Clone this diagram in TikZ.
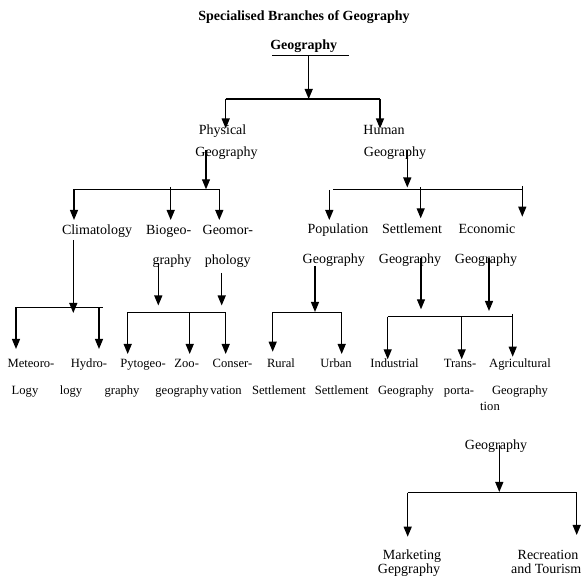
\documentclass[tikz,border=0pt]{standalone}
\usepackage{fontspec}
\setmainfont{Liberation Serif}
\usetikzlibrary{arrows.meta}
\begin{document}
\begin{tikzpicture}[x=1pt,y=-1pt,
  lbl/.style={anchor=base,inner sep=0pt,font=\fontsize{14}{16}\selectfont},
  sml/.style={anchor=base,inner sep=0pt,font=\fontsize{12.6}{14}\selectfont},
  ttl/.style={anchor=base,inner sep=0pt,font=\fontsize{14}{16}\selectfont\bfseries},
  ln/.style={line width=1.2pt},
  arr/.style={line width=1.2pt,-{Triangle[length=10pt,width=8pt]}}]
\useasboundingbox (0,0) rectangle (582,577);

% ---- title and root
\node[ttl] (title) at (304,20.5) {Specialised Branches of Geography};
\node[ttl] (geo) at (303.7,50) {Geography};
\coordinate (ulL) at (272,56);
\coordinate (ulR) at (349,56);
\draw[line width=1pt] (ulL) -- (ulR);
\coordinate (g0) at (308.7,56);
\coordinate (b0) at (308.7,99);
\coordinate (b0L) at (225.7,99);
\coordinate (b0R) at (380,99);
\coordinate (t0L) at (225.7,128.5);
\coordinate (t0R) at (380,128.5);
\draw[arr] (g0) -- (b0);
\draw[ln] (b0L) -- (b0R);
\draw[arr] (b0L) -- (t0L);
\draw[arr] (b0R) -- (t0R);

% ---- Physical / Human
\node[lbl] (phys1) at (222.6,135) {Physical};
\node[lbl] (phys2) at (226.5,156.7) {Geography};
\node[lbl] (hum1) at (384,135) {Human};
\node[lbl] (hum2) at (395,156.7) {Geography};

% ---- Physical branch
\coordinate (p0) at (206,150);
\coordinate (p1) at (206,189.3);
\coordinate (pL) at (74,189.3);
\coordinate (pR) at (219.3,189.3);
\coordinate (pM) at (170.7,187);
\coordinate (tCl) at (74,220);
\coordinate (tBi) at (170.7,220);
\coordinate (tGe) at (219.3,220);
\draw[arr] (p0) -- (p1);
\draw[ln] (pL) -- (pR);
\draw[arr] (pL) -- (tCl);
\draw[arr] (pM) -- (tBi);
\draw[arr] (pR) -- (tGe);

\node[lbl] (clim) at (97,234.3) {Climatology};
\node[lbl] (bio1) at (168.7,234.3) {Biogeo-};
\node[lbl] (bio2) at (172,264.3) {graphy};
\node[lbl] (geom1) at (227.8,234.3) {Geomor-};
\node[lbl] (geom2) at (227.8,264.3) {phology};

% Climatology children
\coordinate (c0) at (73.3,240);
\coordinate (c1) at (73.3,313);
\coordinate (cL) at (16,307.5);
\coordinate (cR) at (102.7,307.5);
\coordinate (cR2) at (99,307.5);
\coordinate (tMe) at (16,349);
\coordinate (tHy) at (99,349);
\draw[ln] (cL) -- (cR);
\draw[arr] (c0) -- (c1);
\draw[arr] (cL) -- (tMe);
\draw[arr] (cR2) -- (tHy);

% Biogeo / Geomor children
\coordinate (bg0) at (158.3,263);
\coordinate (bg1) at (158.3,305.5);
\coordinate (gm0) at (221.7,273);
\coordinate (gm1) at (221.7,305.5);
\coordinate (bL) at (127.7,312.5);
\coordinate (bM) at (189.7,312.5);
\coordinate (bR) at (225.7,312.5);
\coordinate (tPy) at (127.7,354);
\coordinate (tZo) at (189.7,354);
\coordinate (tCo) at (225.7,354);
\draw[arr] (bg0) -- (bg1);
\draw[arr] (gm0) -- (gm1);
\draw[ln] (bL) -- (bR);
\draw[arr] (bL) -- (tPy);
\draw[arr] (bM) -- (tZo);
\draw[arr] (bR) -- (tCo);

% ---- Human branch
\coordinate (h0) at (407.3,150);
\coordinate (h1) at (407.3,187.5);
\coordinate (hL) at (333,189.5);
\coordinate (hR) at (522.3,189.5);
\coordinate (hA) at (329.3,190);
\coordinate (hB) at (420.7,187.3);
\coordinate (hC) at (522.3,186);
\coordinate (tPo) at (329.3,220);
\coordinate (tSe) at (420.7,218.3);
\coordinate (tEc) at (522.3,216.7);
\draw[arr] (h0) -- (h1);
\draw[ln] (hL) -- (hR);
\draw[arr] (hA) -- (tPo);
\draw[arr] (hB) -- (tSe);
\draw[arr] (hC) -- (tEc);

\node[lbl] (pop1) at (338,234) {Population};
\node[lbl] (pop2) at (333.8,264) {Geography};
\node[lbl] (set1) at (412,234) {Settlement};
\node[lbl] (set2) at (410,264) {Geography};
\node[lbl] (eco1) at (487,234) {Economic};
\node[lbl] (eco2) at (486,264) {Geography};

% Population children
\coordinate (po0) at (315,266);
\coordinate (po1) at (315,312);
\coordinate (rL) at (272.7,312.5);
\coordinate (rR) at (341.7,312.5);
\coordinate (tRu) at (272.7,351.7);
\coordinate (tUr) at (341.7,354);
\draw[arr] (po0) -- (po1);
\draw[ln] (rL) -- (rR);
\draw[arr] (rL) -- (tRu);
\draw[arr] (rR) -- (tUr);

% Settlement / Economic children
\coordinate (se0) at (421,258);
\coordinate (se1) at (421,309.3);
\coordinate (ec0) at (489,258);
\coordinate (ec1) at (489,311);
\coordinate (sL) at (387.7,316.7);
\coordinate (sM) at (461.7,316.7);
\coordinate (sR) at (513.3,316.7);
\coordinate (sT) at (512.7,314);
\coordinate (tIn) at (387.7,359.3);
\coordinate (tTr) at (461.7,359.3);
\coordinate (tAg) at (512.7,356.7);
\draw[arr] (se0) -- (se1);
\draw[arr] (ec0) -- (ec1);
\draw[ln] (sL) -- (sR);
\draw[arr] (sL) -- (tIn);
\draw[arr] (sM) -- (tTr);
\draw[arr] (sT) -- (tAg);

% ---- bottom row labels
\node[sml] (met1) at (31,368) {Meteoro-};
\node[sml] (met2) at (25,394.5) {Logy};
\node[sml] (hyd1) at (89,368) {Hydro-};
\node[sml] (hyd2) at (71,394.5) {logy};
\node[sml] (pyt1) at (143,368) {Pytogeo-};
\node[sml] (pyt2) at (122,394.5) {graphy};
\node[sml] (zoo1) at (186.7,368) {Zoo-};
\node[sml] (zoo2) at (182,394.5) {geography};
\node[sml] (con1) at (232.5,368) {Conser-};
\node[sml] (con2) at (226,394.5) {vation};
\node[sml] (rur1) at (281,368) {Rural};
\node[sml] (rur2) at (279,394.5) {Settlement};
\node[sml] (urb1) at (336,368) {Urban};
\node[sml] (urb2) at (341.7,394.5) {Settlement};
\node[sml] (ind1) at (394.5,368) {Industrial};
\node[sml] (ind2) at (406,394.5) {Geography};
\node[sml] (tra1) at (460,368) {Trans-};
\node[sml] (tra2) at (459,394.5) {porta-};
\node[sml] (tra3) at (490,410.7) {tion};
\node[sml] (agr1) at (520,368) {Agricultural};
\node[sml] (agr2) at (520,394.5) {Geography};

% ---- lower separate tree
\node[lbl] (geoB) at (496,449.3) {Geography};
\coordinate (k0) at (499.3,445);
\coordinate (k1) at (499.3,492);
\coordinate (kL) at (407.7,492.7);
\coordinate (kR) at (576.7,492.7);
\coordinate (tMa) at (407.7,536.7);
\coordinate (tRe) at (576.7,535);
\draw[arr] (k0) -- (k1);
\draw[ln] (kL) -- (kR);
\draw[arr] (kL) -- (tMa);
\draw[arr] (kR) -- (tRe);
\node[lbl] (mar1) at (412,559.3) {Marketing};
\node[lbl] (mar2) at (409,574) {Gepgraphy};
\node[lbl,anchor=base east] (rec1) at (578.5,559.3) {Recreation};
\node[lbl,anchor=base east] (rec2) at (581.5,574) {and Tourism};
\end{tikzpicture}
\end{document}
